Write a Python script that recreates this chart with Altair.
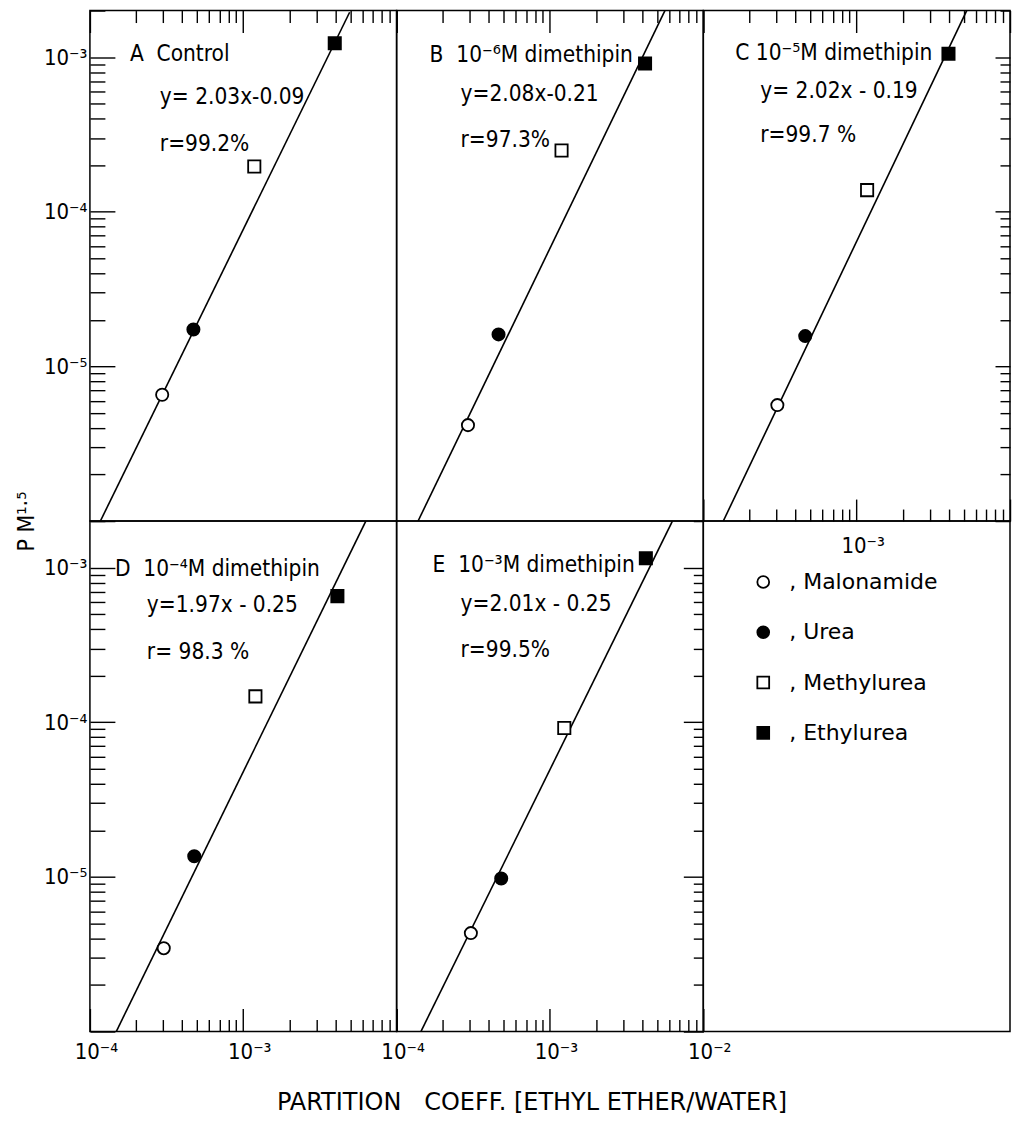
import altair as alt
import pandas as pd

# ---------------- data ----------------
compounds = ["Malonamide", "Urea", "Methylurea", "Ethylurea"]
panel_ids = ["A", "B", "C", "D", "E"]

# partition coefficient (x) of each compound, read per panel
K_vals = {
    "A": [2.96e-4, 4.73e-4, 1.18e-3, 3.95e-3],
    "B": [2.92e-4, 4.62e-4, 1.19e-3, 4.17e-3],
    "C": [3.04e-4, 4.62e-4, 1.17e-3, 3.97e-3],
    "D": [3.03e-4, 4.79e-4, 1.20e-3, 4.11e-3],
    "E": [3.05e-4, 4.81e-4, 1.24e-3, 4.22e-3],
}
# P M^1.5 (y) of each compound
PM_vals = {
    "A": [6.55e-6, 1.73e-5, 1.96e-4, 1.23e-3],
    "B": [4.17e-6, 1.61e-5, 2.49e-4, 9.10e-4],
    "C": [5.62e-6, 1.57e-5, 1.38e-4, 1.05e-3],
    "D": [3.46e-6, 1.36e-5, 1.47e-4, 6.54e-4],
    "E": [4.33e-6, 9.75e-6, 9.17e-5, 1.15e-3],
}
# regression line end points (x, y) where the line meets the panel edges
line_K = {
    "A": [1.17e-4, 4.94e-3],
    "B": [1.38e-4, 5.62e-3],
    "C": [1.35e-4, 5.22e-3],
    "D": [1.485e-4, 6.30e-3],
    "E": [1.44e-4, 6.29e-3],
}
line_PM = {
    "A": [1.0e-6, 1.95e-3],
    "B": [1.0e-6, 2.00e-3],
    "C": [1.0e-6, 2.00e-3],
    "D": [1.0e-6, 2.00e-3],
    "E": [1.0e-6, 2.00e-3],
}
NB = "\u00a0"
titles = {
    "A": "A" + NB + NB + "Control",
    "B": "B" + NB + NB + "10\u207b\u2076M dimethipin",
    "C": "C 10\u207b\u2075M dimethipin",
    "D": "D" + NB + NB + "10\u207b\u2074M dimethipin",
    "E": "E" + NB + NB + "10\u207b\u00b3M dimethipin",
}
equations = {
    "A": "y= 2.03x-0.09",
    "B": "y=2.08x-0.21",
    "C": "y= 2.02x - 0.19",
    "D": "y=1.97x - 0.25",
    "E": "y=2.01x - 0.25",
}
r_values = {
    "A": "r=99.2%",
    "B": "r=97.3%",
    "C": "r=99.7 %",
    "D": "r= 98.3 %",
    "E": "r=99.5%",
}
x_decades = [1e-4, 1e-3, 1e-2]
y_decades = [1e-6, 1e-5, 1e-4, 1e-3]
minor_mult = [2, 3, 4, 5, 6, 7, 8, 9]
x_ticks = sorted(set(x_decades + [m * d for d in x_decades[:-1] for m in minor_mult]))
y_ticks = sorted(set(y_decades + [m * d for d in y_decades[:-1] for m in minor_mult] + [2e-3]))
x_domain = [1e-4, 1e-2]
y_domain = [1e-6, 2e-3]

x_title = "PARTITION" + NB + NB + " COEFF. [ETHYL ETHER/WATER]"
y_title = "P M\u00b9\u00b7\u2075"

# ---------------- layout / style ----------------
W, H = 307, 511
FONT = "DejaVu Sans Condensed, Liberation Sans Narrow, DejaVu Sans"
WIDE_FONT = "DejaVu Sans"
VIEW = alt.ViewBackground(stroke="black", strokeWidth=1.5)
# annotation text positions (pixels inside each panel)
text_pos = {
    "A": [(40, 44), (70, 87), (70, 134)],
    "B": [(33, 45), (64, 84), (64, 130)],
    "C": [(32, 42), (57, 81), (57, 125)],
    "D": [(25, 48), (57, 84), (57, 131)],
    "E": [(36, 44), (64, 83), (64, 129)],
}

MAJOR_TEST = "abs(log(datum.value)/LN10 - round(log(datum.value)/LN10)) < 0.001"
SUP_EXPR = ("datum.value < 5e-6 ? '10\u207b\u2076' : datum.value < 5e-5 ? '10\u207b\u2075' : "
            "datum.value < 5e-4 ? '10\u207b\u2074' : datum.value < 5e-3 ? '10\u207b\u00b3' : '10\u207b\u00b2'")

xs = alt.Scale(type="log", domain=x_domain, nice=False)
ys = alt.Scale(type="log", domain=y_domain, nice=False)
shape_scale = alt.Scale(domain=compounds, range=["circle", "circle", "square", "square"])
fill_scale = alt.Scale(domain=compounds, range=["white", "black", "white", "black"])


def base_axis(orient, values, **kw):
    d = dict(orient=orient, values=values, grid=False, domain=False, title=None,
             labelOverlap=False, labelFlush=False)
    d.update(kw)
    return alt.Axis(**d)


def inward(edge, values, major, minor):
    orient, off = {"left": ("right", -W), "right": ("left", -W),
                   "top": ("bottom", -H), "bottom": ("top", -H)}[edge]
    return base_axis(orient, values, labels=False, ticks=True, offset=off, zindex=1,
                     tickSize={"condition": {"test": MAJOR_TEST, "value": major}, "value": minor},
                     tickColor="black", tickWidth=1.4)


def label_axis(orient, values, **kw):
    return base_axis(orient, values, ticks=False, labels=True, labelExpr=SUP_EXPR, zindex=1,
                     labelFont=FONT, labelFontSize=22, labelColor="black", **kw)


def panel(pid, x_axes, y_axes):
    pts = pd.DataFrame({"compound": compounds, "K": K_vals[pid], "PM": PM_vals[pid]})
    ln = pd.DataFrame({"K": line_K[pid], "PM": line_PM[pid]})
    layers = []
    layers.append(
        alt.Chart(ln).mark_line(color="black", strokeWidth=1.6, clip=True).encode(
            x=alt.X("K:Q", scale=xs, axis=None), y=alt.Y("PM:Q", scale=ys, axis=None))
    )
    layers.append(
        alt.Chart(pts).mark_point(filled=True, stroke="black", strokeWidth=1.8, size=150, opacity=1).encode(
            x=alt.X("K:Q", scale=xs, axis=None), y=alt.Y("PM:Q", scale=ys, axis=None),
            shape=alt.Shape("compound:N", scale=shape_scale, legend=None),
            fill=alt.Fill("compound:N", scale=fill_scale, legend=None))
    )
    texts = [titles[pid], equations[pid], r_values[pid]]
    for t, (tx, ty) in zip(texts, text_pos[pid]):
        layers.append(
            alt.Chart(pd.DataFrame({"t": [t]})).mark_text(
                align="left", baseline="middle", font=FONT, fontSize=22.5, color="black").encode(
                text="t:N", x=alt.value(tx), y=alt.value(ty))
        )
    n = max(len(x_axes), len(y_axes))
    for i in range(n):
        axx = x_axes[i] if i < len(x_axes) else None
        axy = y_axes[i] if i < len(y_axes) else None
        layers.append(
            alt.Chart(pts).mark_point(opacity=0, clip=True).encode(
                x=alt.X("K:Q", scale=xs, axis=axx), y=alt.Y("PM:Q", scale=ys, axis=axy))
        )
    return alt.layer(*layers).resolve_axis(x="independent", y="independent").properties(
        width=W, height=H, view=VIEW)


A = panel("A",
          [inward("top", x_ticks, 22, 12)],
          [inward("left", y_ticks, 25, 15),
           label_axis("left", [1e-5, 1e-4, 1e-3], labelPadding=3,
                      title=y_title, titleX=-63, titleY=H, titleAngle=270, titleAlign="center",
                      titleBaseline="middle", titleFont=FONT, titleFontSize=23,
                      titleFontWeight="normal", titleColor="black")])
B = panel("B", [inward("top", x_ticks, 22, 12)], [])
C = panel("C",
          [inward("top", x_ticks, 22, 12), inward("bottom", x_ticks, 22, 12),
           label_axis("bottom", [1e-3], labelPadding=14, labelOffset=6)],
          [inward("right", y_ticks, 15, 10)])
D = panel("D",
          [inward("bottom", x_ticks, 23, 12),
           label_axis("bottom", [1e-4, 1e-3], labelPadding=10, labelOffset=6)],
          [inward("left", y_ticks, 25, 15),
           label_axis("left", [1e-5, 1e-4, 1e-3], labelPadding=3)])
E = panel("E",
          [inward("bottom", x_ticks, 23, 12),
           label_axis("bottom", [1e-4, 1e-3, 1e-2], labelPadding=10, labelOffset=6,
                      title=x_title, titleX=135, titleY=71, titleAlign="center",
                      titleBaseline="middle", titleFont=WIDE_FONT, titleFontSize=24,
                      titleFontWeight="normal", titleColor="black")],
          [inward("right", y_ticks, 20, 10)])

# legend panel
leg = pd.DataFrame({"compound": compounds, "label": [", " + c for c in compounds]})
yleg = alt.Y("compound:N", scale=alt.Scale(domain=compounds, range=[61, 212], padding=0), axis=None)
F = alt.layer(
    alt.Chart(leg).mark_point(filled=True, stroke="black", strokeWidth=1.8, size=140, opacity=1).encode(
        x=alt.value(60), y=yleg,
        shape=alt.Shape("compound:N", scale=shape_scale, legend=None),
        fill=alt.Fill("compound:N", scale=fill_scale, legend=None)),
    alt.Chart(leg).mark_text(align="left", baseline="middle", font=WIDE_FONT, fontSize=22, color="black").encode(
        x=alt.value(86), y=yleg, text="label:N"),
).properties(width=W, height=H, view=VIEW)

chart = alt.concat(A, B, C, D, E, F, columns=3, spacing=0, bounds="flush").properties(
    padding={"left": 7, "top": 0, "right": 0, "bottom": 0}, background="white"
).configure_view(stroke="black", strokeWidth=1.5)

chart.save("out.html", embed_options={"renderer": "svg", "actions": False})
